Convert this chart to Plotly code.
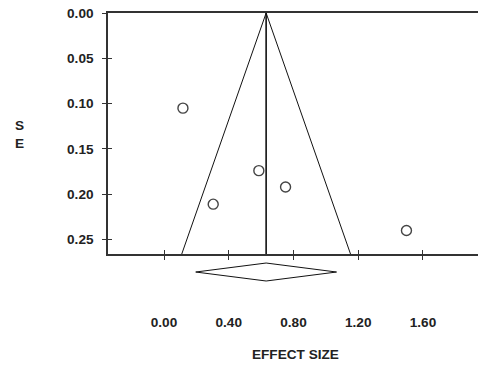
import plotly.graph_objects as go

# Study data
effect = [0.117, 0.304, 0.586, 0.751, 1.498]
se = [0.105, 0.211, 0.174, 0.192, 0.240]

# Pooled estimate and CI
pooled = 0.631
ci_low = 0.196
ci_high = 1.066
se_max = 0.266
z = 1.96

x_ticks = [0.0, 0.4, 0.8, 1.2, 1.6]
x_ticktext = ["0.00", "0.40", "0.80", "1.20", "1.60"]
y_ticks = [0.0, 0.05, 0.10, 0.15, 0.20, 0.25]
y_ticktext = ["0.00", "0.05", "0.10", "0.15", "0.20", "0.25"]

x_range = [-0.346, 1.94]

W, H = 478, 366
m_l, m_r, m_t, m_b = 108, 0, 13, 76
plot_h = H - m_t - m_b
main_bottom_px = 254
dom_split = (H - m_b - main_bottom_px) / plot_h

FONT = "Liberation Sans, Arial, sans-serif"
AX = "#333333"
TXT = "#222222"
FS = 13.6

fig = go.Figure()

# funnel
fig.add_trace(go.Scatter(
    x=[pooled - z * se_max, pooled, pooled + z * se_max],
    y=[se_max, 0, se_max],
    mode="lines", line=dict(color="#111111", width=1),
    hoverinfo="skip", showlegend=False, xaxis="x", yaxis="y"))
# vertical pooled line
fig.add_trace(go.Scatter(
    x=[pooled, pooled], y=[0, se_max],
    mode="lines", line=dict(color="#111111", width=1.6),
    hoverinfo="skip", showlegend=False, xaxis="x", yaxis="y"))
# studies
fig.add_trace(go.Scatter(
    x=effect, y=se, mode="markers",
    marker=dict(symbol="circle-open", size=10, color="#444444", line=dict(width=1.4, color="#444444")),
    showlegend=False, xaxis="x", yaxis="y"))
# diamond
fig.add_trace(go.Scatter(
    x=[ci_low, pooled, ci_high, pooled, ci_low],
    y=[0.5, 0.75, 0.5, 0.25, 0.5],
    mode="lines", line=dict(color="#111111", width=1),
    hoverinfo="skip", showlegend=False, xaxis="x", yaxis="y2"))

tickfont = dict(size=FS, family=FONT, color=TXT, weight="bold")

fig.update_layout(
    width=W, height=H,
    margin=dict(l=m_l, r=m_r, t=m_t, b=m_b, pad=0),
    plot_bgcolor="white", paper_bgcolor="white",
    font=dict(family=FONT, size=FS, color=TXT),
    xaxis=dict(
        range=x_range, anchor="y", tickvals=x_ticks, ticktext=x_ticktext,
        ticks="outside", ticklen=4, tickwidth=1.2, tickcolor=AX,
        showline=True, linecolor=AX, linewidth=1.5, mirror=True,
        showgrid=False, zeroline=False, ticklabelstandoff=51,
        tickfont=tickfont,
    ),
    xaxis2=dict(
        range=x_range, anchor="y", overlaying="x", side="bottom",
        tickvals=x_ticks, ticks="inside", ticklen=4, tickwidth=1.2, tickcolor=AX,
        showticklabels=False, showline=False, showgrid=False, zeroline=False,
    ),
    yaxis=dict(
        range=[se_max, 0], domain=[dom_split, 1], anchor="x",
        tickvals=y_ticks, ticktext=y_ticktext,
        ticks="outside", ticklen=4, tickwidth=1.2, tickcolor=AX,
        showline=True, linecolor=AX, linewidth=1.5,
        showgrid=False, zeroline=False, ticklabelstandoff=6,
        tickfont=tickfont,
    ),
    yaxis3=dict(
        range=[se_max, 0], domain=[dom_split, 1], anchor="x", overlaying="y",
        tickvals=y_ticks[1:], ticks="inside", ticklen=4, tickwidth=1.2, tickcolor=AX,
        showticklabels=False, showline=False, showgrid=False, zeroline=False,
    ),
    yaxis2=dict(
        range=[0, 1], domain=[0, dom_split * 0.999], anchor="x",
        visible=False, fixedrange=True,
    ),
    annotations=[
        dict(text="<b>S<br>E</b>", x=19, y=134, xref="paper", yref="paper", showarrow=False,
             font=dict(size=FS, family=FONT, color=TXT)),
        dict(text="<b>EFFECT SIZE</b>", x=0.5, y=-0.22, xref="paper", yref="paper",
             showarrow=False, font=dict(size=FS, family=FONT, color=TXT)),
    ],
)
fig.add_trace(go.Scatter(x=[None], y=[None], xaxis="x2", yaxis="y3", showlegend=False, hoverinfo="skip"))

pw = W - m_l - m_r
fig.layout.annotations[0].update(x=(19 - m_l) / pw, y=(H - m_b - 134) / plot_h, xanchor="center", yanchor="middle")
fig.layout.annotations[1].update(x=(295 - m_l) / pw, y=(H - m_b - 354.5) / plot_h, xanchor="center", yanchor="middle")

fig.write_html("out.html")
